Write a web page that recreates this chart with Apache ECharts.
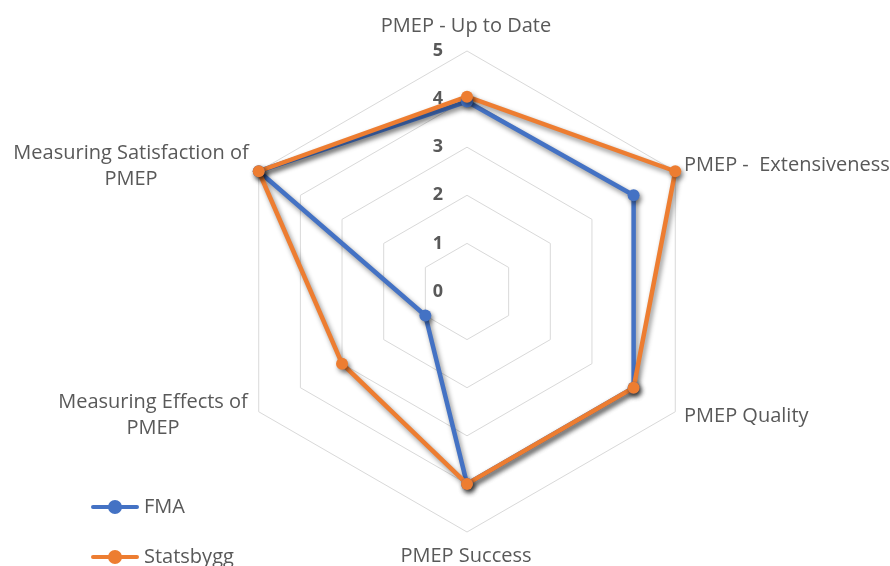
<!DOCTYPE html>
<html>
<head>
<meta charset="utf-8">
<script src="https://cdn.jsdelivr.net/npm/echarts@6/dist/echarts.min.js"></script>
<style>
html,body{margin:0;padding:0;background:#fff;}
#chart{width:890px;height:566px;}
</style>
</head>
<body>
<div id="chart"></div>
<script>
// Categories in clockwise order starting from the top (as in the reference)
const categories = [
  'PMEP - Up to Date',
  'PMEP -  Extensiveness',
  'PMEP Quality',
  'PMEP Success',
  'Measuring Effects of\nPMEP',
  'Measuring Satisfaction of\nPMEP'
];
const fmaValues = [3.95, 4, 4, 4, 1, 5];
const statsbyggValues = [4.05, 5, 4, 4, 3, 5];
const seriesNames = ['FMA', 'Statsbygg'];
const tickLabels = ['0', '1', '2', '3', '4', '5'];
const axisMax = 5;

// ECharts radar runs counter-clockwise; reorder so it reads clockwise
const order = [0, 5, 4, 3, 2, 1];
const reorder = arr => order.map(i => arr[i]);

const FONT = '"Open Sans", "Noto Sans", sans-serif';
const TXT = '#595959';

const chart = echarts.init(document.getElementById('chart'), null, {renderer: 'canvas'});

const indicators = reorder(categories).map((name, k) => {
  const ind = {name: name, min: 0, max: axisMax};
  if (k === 0) {
    ind.axisLabel = {
      show: true,
      formatter: v => tickLabels[v] !== undefined ? tickLabels[v] : '',
      color: TXT, fontFamily: FONT, fontSize: 18, fontWeight: 'bold',
      margin: 24
    };
  }
  return ind;
});

// Category label placements (text from categories array)
const labelSpecs = [
  {x: 466, y: 26, align: 'center'},
  {x: 684, y: 165, align: 'left'},
  {x: 684, y: 416, align: 'left'},
  {x: 466, y: 556, align: 'center'},
  {x: 153, y: 415, align: 'center'},
  {x: 131, y: 166, align: 'center'}
];

const legendIcon = 'path://M2,5L46,5A2,2 0 0,1 46,9L2,9A2,2 0 0,1 2,5Z M17,7A7,7 0 1,1 31,7A7,7 0 1,1 17,7Z';

const option = {
  backgroundColor: '#ffffff',
  animation: false,
  legend: {
    orient: 'vertical',
    left: 91,
    top: 494,
    height: 140,
    padding: 0,
    itemWidth: 48,
    itemHeight: 14,
    itemGap: 24,
    textStyle: {color: TXT, fontFamily: FONT, fontSize: 20, lineHeight: 26},
    data: [
      {name: seriesNames[0], icon: legendIcon, itemStyle: {color: '#4472C4'}},
      {name: seriesNames[1], icon: legendIcon, itemStyle: {color: '#ED7D31'}}
    ]
  },
  radar: {
    center: [467, 291.5],
    radius: 240.5,
    startAngle: 90,
    shape: 'polygon',
    splitNumber: 5,
    indicator: indicators,
    axisName: {show: false},
    axisLine: {show: false},
    axisTick: {show: false},
    splitArea: {show: false},
    splitLine: {lineStyle: {color: '#d9d9d9', width: 1}}
  },
  graphic: categories.map((c, i) => ({
    type: 'text',
    x: labelSpecs[i].x,
    y: labelSpecs[i].y,
    style: {
      text: c,
      fill: TXT,
      font: '20px ' + FONT,
      textAlign: labelSpecs[i].align,
      textVerticalAlign: 'middle',
      lineHeight: 26
    }
  })),
  series: [{
    type: 'radar',
    symbol: 'circle',
    symbolSize: 12,
    data: [
      {
        name: seriesNames[0],
        value: reorder(fmaValues),
        lineStyle: {color: '#4472C4', width: 4.5, shadowBlur: 5, shadowColor: 'rgba(0,0,0,0.45)', shadowOffsetX: 2, shadowOffsetY: 3},
        itemStyle: {color: '#4472C4', shadowBlur: 5, shadowColor: 'rgba(0,0,0,0.45)', shadowOffsetX: 2, shadowOffsetY: 3}
      },
      {
        name: seriesNames[1],
        value: reorder(statsbyggValues),
        lineStyle: {color: '#ED7D31', width: 4.5, shadowBlur: 5, shadowColor: 'rgba(0,0,0,0.45)', shadowOffsetX: 2, shadowOffsetY: 3},
        itemStyle: {color: '#ED7D31', shadowBlur: 5, shadowColor: 'rgba(0,0,0,0.45)', shadowOffsetX: 2, shadowOffsetY: 3}
      }
    ]
  }]
};
chart.setOption(option);
</script>
</body>
</html>
